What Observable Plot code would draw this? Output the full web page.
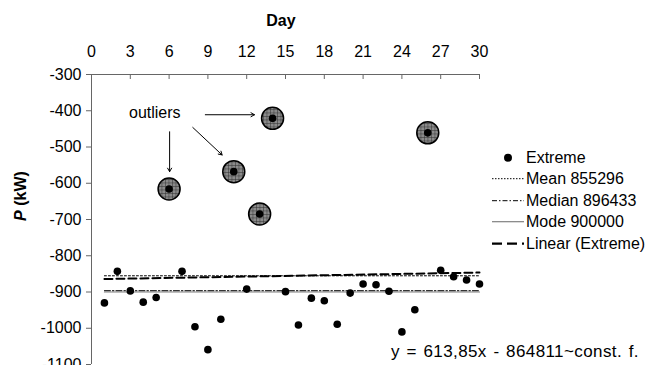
<!DOCTYPE html>
<html><head><meta charset="utf-8">
<script src="https://cdn.jsdelivr.net/npm/d3@7"></script>
<script src="https://cdn.jsdelivr.net/npm/@observablehq/plot@0.6"></script>
<style>
body{margin:0;background:#fff;font-family:"Liberation Sans",Arial,sans-serif;}
#wrap{position:relative;width:648px;height:365px;overflow:hidden;background:#fff;}
#wrap > svg{position:absolute;left:0;top:0;}
#legend{position:absolute;left:492px;top:147px;font-size:16px;line-height:21.4px;color:#000;}
.row{display:flex;align-items:center;height:21.4px;white-space:nowrap;}
.row svg{width:32px;height:21.4px;margin-right:2px;flex:none;}
#eq{position:absolute;left:391px;top:342px;font-size:17px;letter-spacing:0.4px;word-spacing:1.5px;white-space:nowrap;line-height:20px;color:#000;}
</style></head><body><div id="wrap"></div>
<script>
const days = [1,2,3,4,5,6,7,8,9,10,11,12,13,14,15,16,17,18,19,20,21,22,23,24,25,26,27,28,29,30];
const extremeValues = [-930,-843,-897,-928,-915,-616,-843,-996,-1059,-975,-568,-892,-685,-421,-899,-991,-917,-924,-989,-903,-878,-880,-898,-1010,-949,-461,-840,-858,-867,-878];
const outlierDays = [6, 11, 13, 14, 26];
const outlierValues = [-616, -568, -685, -421, -461];
const xTicks = [0,3,6,9,12,15,18,21,24,27,30];
const yTicks = [-300,-400,-500,-600,-700,-800,-900,-1000,-1100];
const meanValue = -855.296;
const medianValue = -896.433;
const modeValue = -900;
const trendSlope = 0.61385;
const trendIntercept = -864.811;
const legendLabels = ["Extreme","Mean 855296","Median 896433","Mode 900000","Linear (Extreme)"];
const equationText = "y = 613,85x - 864811~const. f.";
const annotationLabel = "outliers";
const annotationAt = {x: 2.9, y: -407};
const arrowFrom = [[8.8,-411],[7.83,-446],[6.04,-458]];
const arrowTo = [[12.6,-411],[10.1,-522],[6.04,-568]];

const points = days.map((d,i)=>({x:d, y:extremeValues[i]}));
const outliers = outlierDays.map((d,i)=>({x:d, y:outlierValues[i]}));
const [d0, d1] = d3.extent(days);
const flat = v => [{x:d0,y:v},{x:d1,y:v}];
const trend = [d0,d1].map(x=>({x, y: trendSlope*x + trendIntercept}));
const arrows = arrowFrom.map((f,i)=>({x1:f[0],y1:f[1],x2:arrowTo[i][0],y2:arrowTo[i][1]}));

const axisColor = "#666";
const svg = Plot.plot({
  width: 648, height: 365,
  marginLeft: 91, marginRight: 169, marginTop: 74, marginBottom: 1,
  style: {fontFamily: "'Liberation Sans', Arial, sans-serif", fontSize: "16px", color: "#000", background: "white"},
  x: {domain: [0, 30]},
  y: {domain: [-1100, -300]},
  marks: [
    Plot.axisX({anchor: "top", ticks: xTicks, tickSize: 0, tickPadding: 18, tickFormat: d => String(d), label: null}),
    Plot.tickX(xTicks, {x: d => d, insetBottom: 285, stroke: axisColor}),
    Plot.axisY({ticks: yTicks, tickSize: 5, tickPadding: 5, tickFormat: d => String(d), label: null, stroke: axisColor}),
    Plot.ruleX([0], {stroke: axisColor}),
    Plot.ruleY([-300], {stroke: axisColor}),
    Plot.line(flat(modeValue), {x: "x", y: "y", stroke: "#808080", strokeWidth: 1.2}),
    Plot.line(flat(medianValue), {x: "x", y: "y", stroke: "#000", strokeWidth: 1, strokeDasharray: "6,2,1.5,2"}),
    Plot.line(flat(meanValue), {x: "x", y: "y", stroke: "#000", strokeWidth: 1, strokeDasharray: "2,2"}),
    Plot.line(trend, {x: "x", y: "y", stroke: "#000", strokeWidth: 2, strokeDasharray: "8,4"}),
    Plot.dot(outliers, {x: "x", y: "y", r: 11, fill: "url(#hatch)", stroke: "#000", strokeWidth: 1.5}),
    Plot.dot(points, {x: "x", y: "y", r: 3.8, fill: "#000", stroke: "none"}),
    Plot.arrow(arrows, {x1: "x1", y1: "y1", x2: "x2", y2: "y2", stroke: "#000", strokeWidth: 1, headLength: 6}),
    Plot.text([annotationAt], {x: "x", y: "y", text: () => annotationLabel, textAnchor: "start", fontSize: 16, fill: "#000"})
  ]
});

const s = d3.select(svg);
const defs = s.insert("defs", ":first-child");
const pat = defs.append("pattern").attr("id", "hatch").attr("patternUnits", "userSpaceOnUse").attr("width", 3.5).attr("height", 3.5);
pat.append("rect").attr("width", 3.5).attr("height", 3.5).attr("fill", "#8a8a8a");
pat.append("path").attr("d", "M0,0H3.5M0,0V3.5").attr("stroke", "#2a2a2a").attr("stroke-width", 0.9).attr("fill", "none");

s.append("text").attr("x", 281).attr("y", 22).attr("text-anchor", "middle").attr("dominant-baseline", "middle")
  .attr("font-weight", "bold").attr("font-size", 16).attr("fill", "#000").text("Day");
const yl = s.append("text").attr("transform", "translate(22,196) rotate(-90)").attr("text-anchor", "middle")
  .attr("dominant-baseline", "middle").attr("font-weight", "bold").attr("font-size", 16).attr("fill", "#000");
yl.append("tspan").attr("font-style", "italic").text("P");
yl.append("tspan").text(" (kW)");

const wrap = document.getElementById("wrap");
wrap.appendChild(svg);

const samples = [
  '<circle cx="16" cy="10.7" r="4" fill="#000"/>',
  '<line x1="0" x2="32" y1="10.7" y2="10.7" stroke="#000" stroke-width="1" stroke-dasharray="1.5,1.5"/>',
  '<line x1="0" x2="32" y1="10.7" y2="10.7" stroke="#000" stroke-width="1" stroke-dasharray="5,2,1.5,2"/>',
  '<line x1="0" x2="32" y1="10.7" y2="10.7" stroke="#808080" stroke-width="1.2"/>',
  '<line x1="0" x2="32" y1="10.7" y2="10.7" stroke="#000" stroke-width="2.2" stroke-dasharray="10,5"/>'
];
const legend = document.createElement("div");
legend.id = "legend";
legend.innerHTML = legendLabels.map((l,i)=>`<div class="row"><svg viewBox="0 0 32 21.4">${samples[i]}</svg><span>${l}</span></div>`).join("");
wrap.appendChild(legend);
const eq = document.createElement("div");
eq.id = "eq";
eq.textContent = equationText;
wrap.appendChild(eq);
</script></body></html>
